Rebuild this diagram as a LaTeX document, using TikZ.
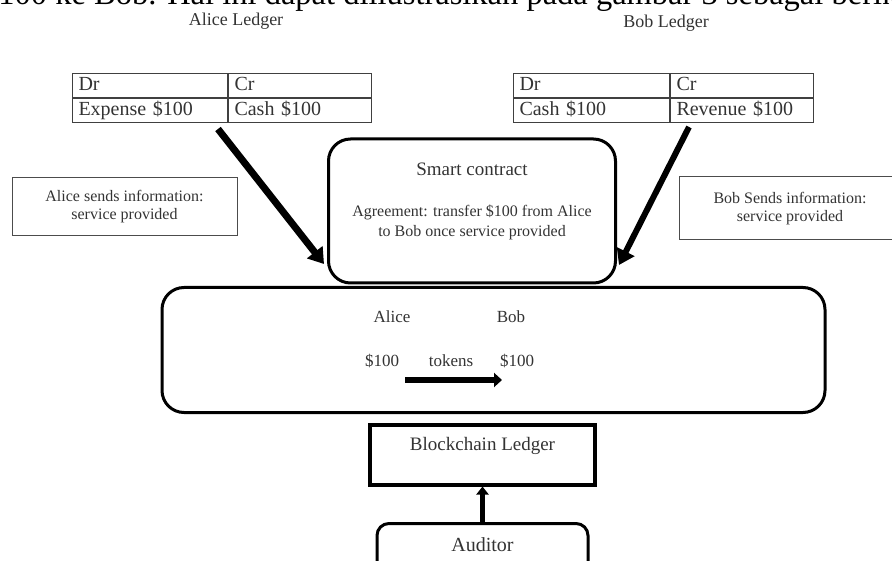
\documentclass[tikz,border=0pt]{standalone}
\usepackage{fontspec}
\setmainfont{Liberation Serif}
\usetikzlibrary{arrows.meta,positioning}

\newcommand{\setfs}[2]{\fontsize{#1}{#2}\selectfont}

\tikzset{
  ink/.style={text=black!80},
  cell/.style={draw=black!75, line width=1pt, anchor=north west, inner ysep=0pt, inner xsep=6pt,
    minimum height=24pt, text width=#1, align=left, text height=13.5pt, text depth=4pt,
    font=\setfs{20}{20}, ink},
  infobox/.style={draw=black!70, line width=1pt, align=center, font=\setfs{16}{18}, ink},
  roundbox/.style={draw, line width=3pt, rounded corners=22pt},
  fatarrow/.style={line width=#1, -{Triangle[length=15pt,width=19pt]}},
  tokarrow/.style={line width=6pt, -{Triangle[length=8pt,width=14pt]}},
  tokenlabel/.style={font=\setfs{17}{17}, ink}
}

\begin{document}
\begin{tikzpicture}[x=1pt,y=-1pt]
  \useasboundingbox (0,0) rectangle (892,561);
  \clip (0,0) rectangle (892,561);

  % text of the page above the figure
  \node[anchor=base west, inner sep=0pt, font=\setfs{32.5}{32.5}, text=black] (pagetext) at (-18,5)
    {\$100 ke Bob. Hal ini dapat diilustrasikan pada gambar 3 sebagai berikut:};

  % ledgers
  \node[font=\setfs{18}{18}, ink] (alicetitle) at (236,21) {Alice Ledger};
  \node[font=\setfs{18}{18}, ink] (bobtitle) at (666,23) {Bob Ledger};

  \node[cell=143pt] (adr) at (72,73) {Dr};
  \node[cell=131pt] (acr) at (adr.north east) {Cr};
  \node[cell=143pt] (aexp) at (adr.south west) {Expense \$100};
  \node[cell=131pt] (acash) at (aexp.north east) {Cash \$100};

  \node[cell=144pt] (bdr) at (513,73) {Dr};
  \node[cell=131pt] (bcr) at (bdr.north east) {Cr};
  \node[cell=144pt] (bcash) at (bdr.south west) {Cash \$100};
  \node[cell=131pt] (brev) at (bcash.north east) {Revenue \$100};

  % information
  \node[infobox, minimum width=225pt, minimum height=58pt] (aliceinfo) at (124.5,207)
    {Alice sends information:\\service provided};
  \node[infobox, minimum width=222pt, minimum height=63pt] (bobinfo) at (790,208.5)
    {Bob Sends information:\\service provided};

  % smart contract
  \node[roundbox, minimum width=287pt, minimum height=144pt] (contract) at (472,211) {};
  \node[font=\setfs{19}{19}, ink, below=22pt of contract.north] (ctitle) {Smart contract};
  \node[font=\setfs{16}{20}, ink, align=center, below=22pt of ctitle] (cterms)
    {Agreement: transfer \$100 from Alice\\to Bob once service provided};

  \draw[fatarrow=7pt] ([shift={(-10,6)}]aexp.south east) -- ([shift={(-3,53)}]contract.west);
  \draw[fatarrow=6pt] ([shift={(19,4)}]brev.south west) -- ([shift={(2,54)}]contract.east);

  % token ledger
  \node[roundbox, minimum width=663pt, minimum height=125pt] (ledger) at (493.5,350) {};
  \node[tokenlabel] (alice) at (392,317) {Alice};
  \node[tokenlabel] (bob) at (511,317) {Bob};
  \node[tokenlabel] (alicecash) at (382,361) {\$100};
  \node[tokenlabel] (tokens) at (451,361) {tokens};
  \node[tokenlabel] (bobcash) at (517,361) {\$100};
  \coordinate (tokstart) at (405,380);
  \coordinate (tokend) at (502,380);
  \draw[tokarrow] (tokstart) -- (tokend);

  % blockchain and auditor
  \node[draw, line width=3.5pt, anchor=north, minimum width=225pt, inner ysep=12pt,
    text height=14pt, text depth=22pt, font=\setfs{19}{19}, ink] (chain) at (482.5,423) {Blockchain Ledger};
  \node[roundbox, anchor=north, minimum width=211pt, inner ysep=14pt, rounded corners=12pt,
    text height=14pt, text depth=30pt, font=\setfs{20}{20}, ink] (auditor) at (482.5,522) {Auditor};
  \draw[line width=5pt, -{Triangle[length=8pt,width=12pt]}] (auditor.north) -- (chain.south);
\end{tikzpicture}
\end{document}
